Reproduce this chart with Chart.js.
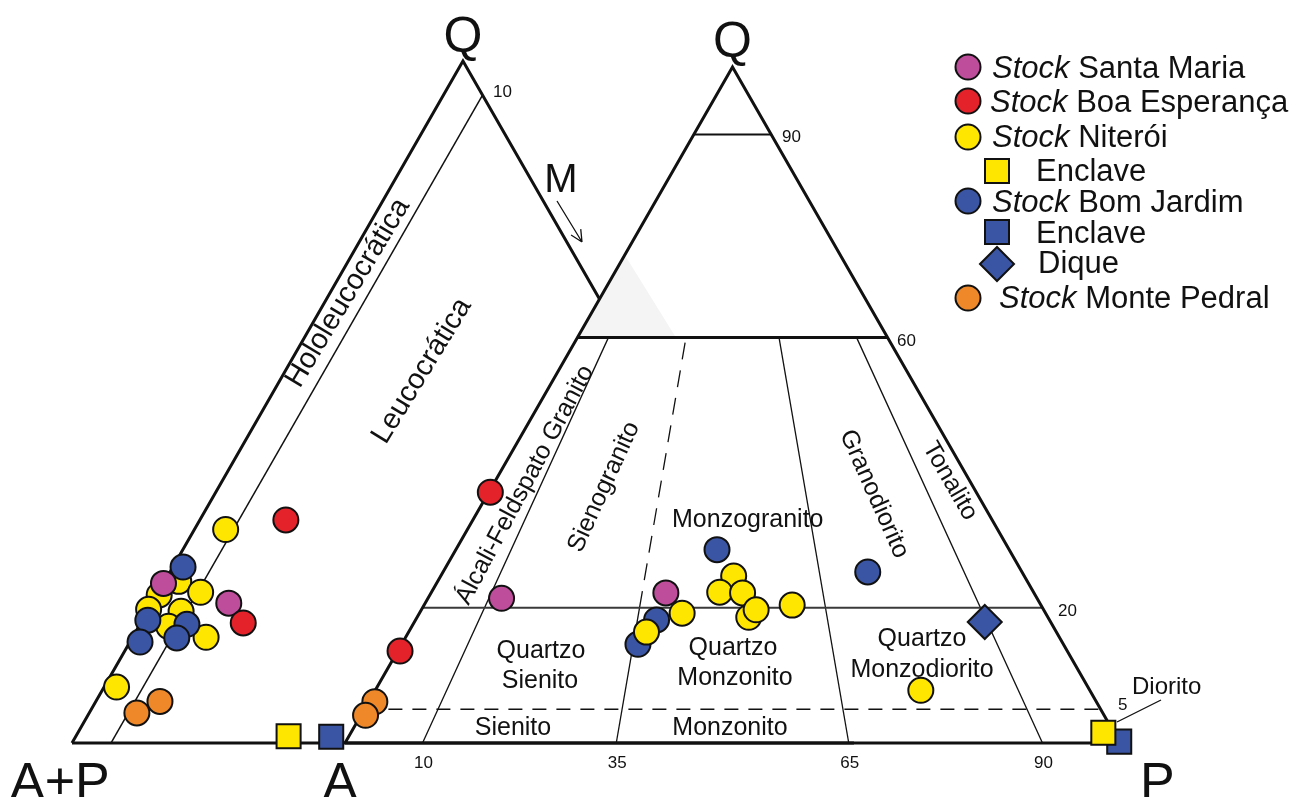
<!DOCTYPE html>
<html>
<head>
<meta charset="utf-8">
<script src="https://cdn.jsdelivr.net/npm/chart.js@4.4.1/dist/chart.umd.min.js"></script>
<style>
html,body{margin:0;padding:0;background:#fff;overflow:hidden}
#wrap{width:1297px;height:797px;position:relative}
</style>
</head>
<body>
<div id="wrap"><canvas id="c" width="1297" height="797"></canvas></div>
<script>
// ================= DATA =================
// Legend categories
const categories = ['Stock Santa Maria', 'Stock Boa Esperança', 'Stock Niterói', 'Enclave', 'Stock Bom Jardim', 'Enclave', 'Dique', 'Stock Monte Pedral'];

// Q-(A+P)-M diagram (left), values [Q, A+P, M] in %
const santaMariaQM   = [[23.4, 76.6, 0.0], [20.5, 69.7, 9.8]];
const boaEsperancaQM = [[32.7, 56.3, 11.0], [17.6, 69.3, 13.1]];
const niteroiQM      = [[31.3, 64.7, 4.0], [23.7, 74.5, 1.8], [21.7, 78.0, 0.3], [22.1, 72.5, 5.4], [19.6, 80.4, 0.0], [19.3, 76.4, 4.3], [17.1, 79.1, 3.8], [15.5, 75.1, 9.4], [8.2, 90.2, 1.6]];
const niteroiEnclaveQM = [[1.0, 71.8, 27.2]];
const bomJardimQM    = [[25.8, 72.9, 1.3], [18.0, 81.3, 0.7], [17.4, 76.6, 6.0], [15.4, 78.9, 5.7], [14.8, 83.9, 1.3]];
const bomJardimEnclaveQM = [[0.9, 66.4, 32.7]];
const montePedralQM  = [[6.1, 85.7, 8.2], [4.4, 89.5, 6.1]];

// Q-A-P diagram (Streckeisen), values [Q, A, P] in %
const santaMariaQAP   = [[21.4, 69.1, 9.5], [22.2, 47.5, 30.3]];
const boaEsperancaQAP = [[37.1, 62.7, 0.2], [13.6, 86.1, 0.3]];
const niteroiQAP      = [[24.7, 37.5, 37.8], [22.3, 40.5, 37.2], [22.2, 37.6, 40.2], [18.6, 38.6, 42.8], [19.7, 37.1, 43.2], [20.4, 32.1, 47.5], [19.2, 46.9, 33.9], [16.4, 52.9, 30.7], [7.8, 21.8, 70.4]];
const niteroiEnclaveQAP = [[1.5, 1.4, 97.1]];
const bomJardimQAP    = [[28.6, 37.7, 33.7], [18.2, 50.7, 31.1], [14.6, 54.9, 30.5], [25.3, 19.9, 54.8]];
const bomJardimEnclaveQAP = [[0.2, 0.0, 99.8]];
const bomJardimDiqueQAP = [[17.9, 8.5, 73.6]];
const montePedralQAP  = [[6.1, 93.1, 0.8], [4.1, 95.3, 0.6]];

// Field boundaries
const qapQLevels = [90, 60, 20];          // solid horizontal Q lines
const qapDashedQLevels = [5];             // dashed Q line
const qapRatioLines = [10, 35, 65, 90];   // 100*P/(A+P)
const qapRatioTicks = ['10', '35', '65', '90'];
const qapEdgeTicks = ['90', '60', '20', '5'];
const qmMLines = [5];
const qmEdgeTick = ['10'];

// ================= LAYOUT / GEOMETRY =================
const X_MIN = -44.52, X_MAX = 122.84, Y_MIN = -7.99, Y_MAX = 109.91;
const LEFT_X0 = -35.23, LEFT_S = 1.009;
function qapXY(t) { const [q, a, p] = t; const s = q + a + p; return { x: (p + q / 2) * 100 / s, y: q * 100 / s }; }
function qmXY(t) { const [q, ap, m] = t; const s = q + ap + m; return { x: LEFT_X0 + LEFT_S * (m + q / 2) * 100 / s, y: LEFT_S * q * 100 / s }; }
function intersect(p1, p2, p3, p4) {
  const d = (p1.x - p2.x) * (p3.y - p4.y) - (p1.y - p2.y) * (p3.x - p4.x);
  const t = ((p1.x - p3.x) * (p3.y - p4.y) - (p1.y - p3.y) * (p3.x - p4.x)) / d;
  return { x: p1.x + t * (p2.x - p1.x), y: p1.y + t * (p2.y - p1.y) };
}

const COL = { magenta: '#BE4E9B', red: '#E3222A', yellow: '#FFE600', blue: '#3A55A3', orange: '#EE8829', ink: '#111111' };
const FONT = "'Liberation Sans', Arial, Helvetica, sans-serif";

function lineDS(data, opts) {
  return Object.assign({ type: 'scatter', data, showLine: true, pointRadius: 0, pointHoverRadius: 0,
    borderColor: COL.ink, borderWidth: 1.5, fill: false, order: 100, clip: false,
    borderJoinStyle: 'miter', borderCapStyle: 'butt' }, opts || {});
}
function pointDS(label, data, color, style, radius, order) {
  return { type: 'scatter', label, data, pointStyle: style, pointRadius: radius, pointHoverRadius: radius,
    backgroundColor: color, borderColor: COL.ink, borderWidth: 2, pointBorderWidth: 2, showLine: false, order, clip: false };
}

const datasets = [];

// faint shaded wedge
datasets.push({ type: 'line', data: [qapXY([72.2, 27.8, 0]), qapXY([60, 40, 0]), qapXY([60, 27.3, 12.7])],
  fill: 'shape', backgroundColor: '#f4f4f4', borderWidth: 0, pointRadius: 0, order: 300, clip: false });

// Left triangle outline
const lQ = qmXY([100, 0, 0]), lAP = qmXY([0, 100, 0]), lM = qmXY([0, 0, 100]);
const qA = qapXY([0, 100, 0]), qQ = qapXY([100, 0, 0]), qP = qapXY([0, 0, 100]);
const cut = intersect(lQ, lM, qA, qQ);
datasets.push(lineDS([lAP, lQ, cut], { borderWidth: 3 }));
datasets.push(lineDS([lAP, lM], { borderWidth: 3 }));
qmMLines.forEach(m => datasets.push(lineDS([qmXY([0, 100 - m, m]), qmXY([100 - m, 0, m])], { borderWidth: 1.5 })));

// QAP outline
datasets.push(lineDS([qA, qQ, qP, qA], { borderWidth: 3 }));
qapQLevels.forEach(q => {
  const w = q === 60 ? 3 : 2;
  const c = q === 20 ? '#3a3a3a' : COL.ink;
  datasets.push(lineDS([qapXY([q, 100 - q, 0]), qapXY([q, 0, 100 - q])], { borderWidth: w, borderColor: c }));
});
qapDashedQLevels.forEach(q => datasets.push(lineDS([qapXY([q, 100 - q, 0]), qapXY([q, 0, 100 - q])], { borderWidth: 1.5, borderDash: [14, 10] })));
qapRatioLines.forEach(r => {
  const at = q => qapXY([q, (100 - q) * (1 - r / 100), (100 - q) * r / 100]);
  if (r === 35) {
    datasets.push(lineDS([at(0), at(20)], { borderWidth: 1.3 }));
    datasets.push(lineDS([at(20), at(60)], { borderWidth: 1.3, borderDash: [17, 11] }));
  } else {
    datasets.push(lineDS([at(0), at(60)], { borderWidth: 1.3 }));
  }
});

// Points - left diagram (order: red > magenta > blue > yellow)
datasets.push(pointDS(categories[2], niteroiQM.map(qmXY), COL.yellow, 'circle', 12.5, 14));
datasets.push(pointDS(categories[4], bomJardimQM.map(qmXY), COL.blue, 'circle', 12.5, 13));
datasets.push(pointDS(categories[0], santaMariaQM.map(qmXY), COL.magenta, 'circle', 12.5, 12));
datasets.push(pointDS(categories[1], boaEsperancaQM.map(qmXY), COL.red, 'circle', 12.5, 11));
datasets.push(pointDS(categories[7], montePedralQM.map(qmXY), COL.orange, 'circle', 12.5, 11));
datasets.push(pointDS(categories[5], bomJardimEnclaveQM.map(qmXY), COL.blue, 'rect', 17, 11));
datasets.push(pointDS(categories[3], niteroiEnclaveQM.map(qmXY), COL.yellow, 'rect', 17, 10));

// Points - QAP diagram (yellow on top)
datasets.push(pointDS(categories[0], santaMariaQAP.map(qapXY), COL.magenta, 'circle', 12.5, 6));
datasets.push(pointDS(categories[4], bomJardimQAP.map(qapXY), COL.blue, 'circle', 12.5, 5));
datasets.push(pointDS(categories[2], niteroiQAP.map(qapXY), COL.yellow, 'circle', 12.5, 4));
datasets.push(pointDS(categories[1], boaEsperancaQAP.map(qapXY), COL.red, 'circle', 12.5, 4));
datasets.push(pointDS(categories[7], montePedralQAP.map(qapXY), COL.orange, 'circle', 12.5, 4));
datasets.push(pointDS(categories[6], bomJardimDiqueQAP.map(qapXY), COL.blue, 'rectRot', 17, 3));
datasets.push(pointDS(categories[5], bomJardimEnclaveQAP.map(qapXY), COL.blue, 'rect', 17, 2));
datasets.push(pointDS(categories[3], niteroiEnclaveQAP.map(qapXY), COL.yellow, 'rect', 17, 1));

// ================= ANNOTATION PLUGIN =================
const annot = {
  id: 'annot',
  beforeDatasetsDraw(chart) {
    const ctx = chart.ctx;
    const xs = chart.scales.x, ys = chart.scales.y;
    const px = pt => ({ x: xs.getPixelForValue(pt.x), y: ys.getPixelForValue(pt.y) });
    ctx.save();
    ctx.fillStyle = COL.ink;
    ctx.textBaseline = 'alphabetic';
    const T = (s, x, y, size, align, style) => {
      ctx.font = (style || '') + ' ' + size + 'px ' + FONT;
      ctx.textAlign = align || 'left';
      ctx.fillText(s, x, y);
    };
    const R = (s, x, y, size, deg) => {
      ctx.save();
      ctx.translate(x, y);
      ctx.rotate(deg * Math.PI / 180);
      ctx.font = size + 'px ' + FONT;
      ctx.textAlign = 'center';
      ctx.textBaseline = 'middle';
      ctx.fillText(s, 0, 0);
      ctx.restore();
    };
    // vertex labels
    T('Q', px(lQ).x, 52, 50, 'center');
    T('Q', px(qQ).x, 57, 50, 'center');
    T('A+P', 10, 799, 52, 'left');
    T('A', px(qA).x - 5, 799, 52, 'center');
    T('P', 1140, 799, 52, 'left');
    T('M', 561, 192, 40, 'center');
    // ticks
    qapRatioLines.forEach((r, i) => T(qapRatioTicks[i], px(qapXY([0, 100 - r, r])).x + 1, 768, 17, 'center'));
    T(qapEdgeTicks[0], 782, 142, 17, 'left');
    T(qapEdgeTicks[1], 897, 346, 17, 'left');
    T(qapEdgeTicks[2], 1058, 616, 17, 'left');
    T(qapEdgeTicks[3], 1118, 710, 17, 'left');
    T(qmEdgeTick[0], 493, 97, 17, 'left');
    // field names
    T('Monzogranito', 672, 527, 25, 'left');
    T('Quartzo', 541, 658, 25, 'center');
    T('Sienito', 540, 688, 25, 'center');
    T('Quartzo', 733, 655, 25, 'center');
    T('Monzonito', 735, 685, 25, 'center');
    T('Quartzo', 922, 646, 25, 'center');
    T('Monzodiorito', 922, 677, 25, 'center');
    T('Sienito', 513, 735, 25, 'center');
    T('Monzonito', 730, 735, 25, 'center');
    T('Diorito', 1132, 694, 24, 'left');
    R('Álcali-Feldspato Granito', 525, 485, 25, -62);
    R('Sienogranito', 604, 487, 25, -65.4);
    R('Granodiorito', 874, 494, 25, 66);
    R('Tonalito', 950, 481, 25, 60);
    R('Hololeucocrática', 348, 293, 29, -59);
    R('Leucocrática', 422, 371, 29, -58.5);
    // M arrow
    ctx.strokeStyle = COL.ink;
    ctx.lineWidth = 1.3;
    ctx.beginPath();
    ctx.moveTo(557, 201); ctx.lineTo(582, 242);
    const ang = Math.atan2(242 - 201, 582 - 557);
    [0.45, -0.45].forEach(d => {
      ctx.moveTo(582, 242);
      ctx.lineTo(582 - 13 * Math.cos(ang + d), 242 - 13 * Math.sin(ang + d));
    });
    ctx.stroke();
    // Diorito leader
    ctx.beginPath();
    ctx.moveTo(1161, 700); ctx.lineTo(1117, 722);
    ctx.stroke();
    ctx.restore();
  },
  afterDraw(chart) {
    const ctx = chart.ctx;
    ctx.save();
    const rows = [
      { m: 'circle', c: COL.magenta, mx: 968, my: 67, tx: 992, ty: 78, it: 'Stock', rest: ' Santa Maria' },
      { m: 'circle', c: COL.red, mx: 968, my: 101, tx: 990, ty: 112, it: 'Stock', rest: ' Boa Esperança' },
      { m: 'circle', c: COL.yellow, mx: 968, my: 137, tx: 992, ty: 147, it: 'Stock', rest: ' Niterói' },
      { m: 'rect', c: COL.yellow, mx: 997, my: 171, tx: 1036, ty: 181, it: '', rest: 'Enclave' },
      { m: 'circle', c: COL.blue, mx: 968, my: 201, tx: 992, ty: 212, it: 'Stock', rest: ' Bom Jardim' },
      { m: 'rect', c: COL.blue, mx: 997, my: 232, tx: 1036, ty: 243, it: '', rest: 'Enclave' },
      { m: 'diamond', c: COL.blue, mx: 997, my: 264, tx: 1038, ty: 273, it: '', rest: 'Dique' },
      { m: 'circle', c: COL.orange, mx: 968, my: 298, tx: 999, ty: 308, it: 'Stock', rest: ' Monte Pedral' }
    ];
    rows.forEach(r => {
      ctx.fillStyle = r.c; ctx.strokeStyle = COL.ink; ctx.lineWidth = 2;
      ctx.beginPath();
      if (r.m === 'circle') ctx.arc(r.mx, r.my, 12.5, 0, Math.PI * 2);
      else if (r.m === 'rect') ctx.rect(r.mx - 12, r.my - 12, 24, 24);
      else { ctx.moveTo(r.mx - 17, r.my); ctx.lineTo(r.mx, r.my - 17); ctx.lineTo(r.mx + 17, r.my); ctx.lineTo(r.mx, r.my + 17); ctx.closePath(); }
      ctx.fill(); ctx.stroke();
      ctx.fillStyle = COL.ink;
      ctx.textAlign = 'left'; ctx.textBaseline = 'alphabetic';
      let x = r.tx;
      if (r.it) {
        ctx.font = 'italic 31px ' + FONT;
        ctx.fillText(r.it, x, r.ty);
        x += ctx.measureText(r.it).width;
      }
      ctx.font = '31px ' + FONT;
      ctx.fillText(r.rest, x, r.ty);
    });
    ctx.restore();
  }
};

new Chart(document.getElementById('c'), {
  type: 'scatter',
  data: { datasets },
  options: {
    responsive: false,
    devicePixelRatio: 1,
    animation: false,
    layout: { padding: 0, autoPadding: false },
    plugins: { legend: { display: false }, tooltip: { enabled: false }, title: { display: false } },
    events: [],
    scales: {
      x: { type: 'linear', min: X_MIN, max: X_MAX, display: false },
      y: { type: 'linear', min: Y_MIN, max: Y_MAX, display: false }
    }
  },
  plugins: [annot]
});
</script>
</body>
</html>
